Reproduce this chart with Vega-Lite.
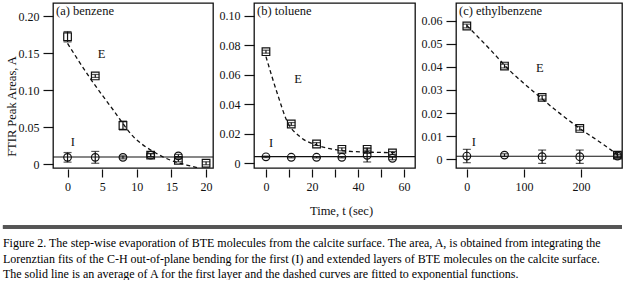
{
  "$schema": "https://vega.github.io/schema/vega-lite/v6.json",
  "padding": {"left": 1, "top": 2, "right": 0, "bottom": 0},
  "config": {
    "font": "Liberation Serif",
    "view": {"stroke": "#111", "strokeWidth": 1.3},
    "axis": {"domain": false, "grid": false, "tickColor": "#111", "tickWidth": 1.2, "labelColor": "#111", "labelFont": "Liberation Serif", "labelFontSize": 12, "titleFont": "Liberation Serif", "titleFontSize": 12.5, "titleFontWeight": "normal", "titleColor": "#111", "labelOverlap": false, "labelFlush": false, "tickCount": 20},
    "axisX": {"tickSize": 8, "labelPadding": 4, "offset": 1},
    "axisY": {"tickSize": 10, "labelPadding": 4},
    "title": {"font": "Liberation Serif", "fontSize": 12.5, "fontWeight": "normal", "color": "#111", "anchor": "start", "orient": "top", "frame": "group", "offset": -14, "dx": 3, "baseline": "alphabetic"},
    "text": {"font": "Liberation Serif", "fontSize": 12.5, "color": "#111"}
  },
  "datasets": {
    "a_pts": [
      {"s": "E", "t": 0, "A": 0.172, "lo": 0.165, "hi": 0.179},
      {"s": "E", "t": 4, "A": 0.119, "lo": 0.117, "hi": 0.121},
      {"s": "E", "t": 8, "A": 0.052, "lo": 0.046, "hi": 0.058},
      {"s": "E", "t": 12, "A": 0.012, "lo": 0.010, "hi": 0.014},
      {"s": "E", "t": 16, "A": 0.005, "lo": 0.003, "hi": 0.007},
      {"s": "E", "t": 20, "A": 0.001, "lo": -0.001, "hi": 0.003},
      {"s": "I", "t": 0, "A": 0.009, "lo": 0.0025, "hi": 0.0155},
      {"s": "I", "t": 4, "A": 0.009, "lo": 0.001, "hi": 0.017},
      {"s": "I", "t": 8, "A": 0.009, "lo": 0.007, "hi": 0.011},
      {"s": "I", "t": 12, "A": 0.012, "lo": 0.010, "hi": 0.014},
      {"s": "I", "t": 16, "A": 0.011, "lo": 0.009, "hi": 0.013}
    ],
    "a_fit": [
      {"t": 0, "A": 0.163}, {"t": 3.25, "A": 0.116}, {"t": 6.6, "A": 0.073}, {"t": 9.5, "A": 0.037},
      {"t": 12.4, "A": 0.0167}, {"t": 14.8, "A": 0.0054}, {"t": 17.2, "A": -0.0014}, {"t": 19.1, "A": -0.0058}
    ],
    "a_avg": [{"A": 0.0095}],
    "a_lab": [{"t": 4.9, "A": 0.149, "label": "E"}, {"t": 0.75, "A": 0.0297, "label": "I"}],
    "b_pts": [
      {"s": "E", "t": 0, "A": 0.0757, "lo": 0.0747, "hi": 0.0767},
      {"s": "E", "t": 11, "A": 0.0265, "lo": 0.0255, "hi": 0.0275},
      {"s": "E", "t": 22, "A": 0.0129, "lo": 0.0119, "hi": 0.0139},
      {"s": "E", "t": 33, "A": 0.0093, "lo": 0.0083, "hi": 0.0103},
      {"s": "E", "t": 44, "A": 0.0093, "lo": 0.0083, "hi": 0.0103},
      {"s": "E", "t": 55, "A": 0.0068, "lo": 0.0058, "hi": 0.0078},
      {"s": "I", "t": 0, "A": 0.0042, "lo": 0.0037, "hi": 0.0047},
      {"s": "I", "t": 11, "A": 0.0039, "lo": 0.0035, "hi": 0.0043},
      {"s": "I", "t": 22, "A": 0.0039, "lo": 0.0035, "hi": 0.0043},
      {"s": "I", "t": 33, "A": 0.0039, "lo": 0.0035, "hi": 0.0043},
      {"s": "I", "t": 44, "A": 0.0052, "lo": 0.0007, "hi": 0.0097},
      {"s": "I", "t": 55, "A": 0.0032, "lo": 0.0022, "hi": 0.0042}
    ],
    "b_fit": [
      {"t": 0, "A": 0.0723}, {"t": 5.4, "A": 0.045}, {"t": 9, "A": 0.029}, {"t": 14.8, "A": 0.0179},
      {"t": 22, "A": 0.0122}, {"t": 29.3, "A": 0.0093}, {"t": 37.8, "A": 0.0078}, {"t": 46.5, "A": 0.0073}, {"t": 56.7, "A": 0.007}
    ],
    "b_avg": [{"A": 0.0043}],
    "b_lab": [{"t": 14, "A": 0.057, "label": "E"}, {"t": 2.2, "A": 0.0139, "label": "I"}],
    "c_pts": [
      {"s": "E", "t": 0, "A": 0.0578, "lo": 0.057, "hi": 0.0586},
      {"s": "E", "t": 66, "A": 0.0404, "lo": 0.0396, "hi": 0.0412},
      {"s": "E", "t": 132, "A": 0.0268, "lo": 0.026, "hi": 0.0276},
      {"s": "E", "t": 198, "A": 0.0133, "lo": 0.0125, "hi": 0.0141},
      {"s": "E", "t": 264, "A": 0.0017, "lo": 0.0007, "hi": 0.0027},
      {"s": "I", "t": 0, "A": 0.0013, "lo": -0.0016, "hi": 0.0042},
      {"s": "I", "t": 66, "A": 0.0017, "lo": 0.0011, "hi": 0.0023},
      {"s": "I", "t": 132, "A": 0.001, "lo": -0.0019, "hi": 0.0039},
      {"s": "I", "t": 198, "A": 0.001, "lo": -0.0019, "hi": 0.0039},
      {"s": "I", "t": 264, "A": 0.0013, "lo": 0.0007, "hi": 0.0019}
    ],
    "c_fit": [
      {"t": 0, "A": 0.058}, {"t": 40, "A": 0.0478}, {"t": 75, "A": 0.0385}, {"t": 116, "A": 0.0295},
      {"t": 157, "A": 0.021}, {"t": 198, "A": 0.0133}, {"t": 240, "A": 0.0062}, {"t": 270, "A": 0.0008}
    ],
    "c_avg": [{"A": 0.0012}],
    "c_lab": [{"t": 128, "A": 0.0394, "label": "E"}, {"t": 12.3, "A": 0.0072, "label": "I"}],
    "caption": [
      {"line": 1, "text": "Figure 2. The step-wise evaporation of BTE molecules from the calcite surface. The area, A, is obtained from integrating the"},
      {"line": 2, "text": "Lorenztian fits of the C-H out-of-plane bending for the first (I) and extended layers of BTE molecules on the calcite surface."},
      {"line": 3, "text": "The solid line is an average of A for the first layer and the dashed curves are fitted to exponential functions."}
    ]
  },
  "vconcat": [
    {
      "hconcat": [
        {
          "width": 160, "height": 165,
          "title": {"text": "(a) benzene"},
          "layer": [
            {"data": {"name": "a_avg"}, "mark": {"type": "rule", "color": "#111", "strokeWidth": 1.2},
             "encoding": {"y": {"field": "A", "type": "quantitative", "scale": {"domain": [-0.0054, 0.2176], "nice": false, "zero": false}, "axis": {"title": "FTIR Peak Areas, A"}}}},
            {"data": {"name": "a_fit"}, "mark": {"type": "line", "clip": true, "strokeDash": [4, 3], "color": "#111", "strokeWidth": 1.3, "interpolate": "monotone"},
             "encoding": {"x": {"field": "t", "type": "quantitative", "scale": {"domain": [-2.1, 21.0], "nice": false, "zero": false}, "axis": {"title": null}},
                          "y": {"field": "A", "type": "quantitative", "scale": {"domain": [-0.0054, 0.2176], "nice": false, "zero": false}, "axis": {"title": "FTIR Peak Areas, A"}}}},
            {"data": {"name": "a_pts"}, "mark": {"type": "errorbar", "ticks": true, "size": 8, "thickness": 1.2, "color": "#111"},
             "encoding": {"x": {"field": "t", "type": "quantitative", "scale": {"domain": [-2.1, 21.0], "nice": false, "zero": false}, "axis": {"title": null}},
                          "y": {"field": "lo", "type": "quantitative", "scale": {"domain": [-0.0054, 0.2176], "nice": false, "zero": false}, "axis": {"title": "FTIR Peak Areas, A"}},
                          "y2": {"field": "hi"}}},
            {"data": {"name": "a_pts"}, "mark": {"type": "point", "filled": false, "color": "#111", "strokeWidth": 1.2, "opacity": 1},
             "encoding": {"x": {"field": "t", "type": "quantitative", "scale": {"domain": [-2.1, 21.0], "nice": false, "zero": false},
                                "axis": {"values": [0, 5, 10, 15, 20], "title": null}},
                          "y": {"field": "A", "type": "quantitative", "scale": {"domain": [-0.0054, 0.2176], "nice": false, "zero": false},
                                "axis": {"values": [0, 0.05, 0.1, 0.15, 0.2], "labelExpr": "datum.value == 0 ? '0' : format(datum.value, '.2f')", "title": "FTIR Peak Areas, A", "titleY": 103, "titlePadding": 0}},
                          "shape": {"field": "s", "type": "nominal", "scale": {"domain": ["E", "I"], "range": ["square", "circle"]}, "legend": null},
                          "size": {"field": "s", "type": "nominal", "scale": {"domain": ["E", "I"], "range": [58, 58]}, "legend": null}}},
            {"data": {"name": "a_lab"}, "mark": {"type": "text", "baseline": "middle", "align": "center"},
             "encoding": {"x": {"field": "t", "type": "quantitative", "scale": {"domain": [-2.1, 21.0], "nice": false, "zero": false}, "axis": {"title": null}},
                          "y": {"field": "A", "type": "quantitative", "scale": {"domain": [-0.0054, 0.2176], "nice": false, "zero": false}, "axis": {"title": "FTIR Peak Areas, A"}},
                          "text": {"field": "label"}}}
          ]
        },
        {
          "width": 161, "height": 165,
          "title": {"text": "(b) toluene"},
          "layer": [
            {"data": {"name": "b_avg"}, "mark": {"type": "rule", "color": "#111", "strokeWidth": 1.2},
             "encoding": {"y": {"field": "A", "type": "quantitative", "scale": {"domain": [-0.0034, 0.1088], "nice": false, "zero": false}, "axis": {"title": null}}}},
            {"data": {"name": "b_fit"}, "mark": {"type": "line", "clip": true, "strokeDash": [4, 3], "color": "#111", "strokeWidth": 1.3, "interpolate": "monotone"},
             "encoding": {"x": {"field": "t", "type": "quantitative", "scale": {"domain": [-5.2, 64.8], "nice": false, "zero": false}, "axis": {"title": "Time, t (sec)"}},
                          "y": {"field": "A", "type": "quantitative", "scale": {"domain": [-0.0034, 0.1088], "nice": false, "zero": false}, "axis": {"title": null}}}},
            {"data": {"name": "b_pts"}, "mark": {"type": "errorbar", "ticks": true, "size": 8, "thickness": 1.2, "color": "#111"},
             "encoding": {"x": {"field": "t", "type": "quantitative", "scale": {"domain": [-5.2, 64.8], "nice": false, "zero": false}, "axis": {"title": "Time, t (sec)"}},
                          "y": {"field": "lo", "type": "quantitative", "scale": {"domain": [-0.0034, 0.1088], "nice": false, "zero": false}, "axis": {"title": null}},
                          "y2": {"field": "hi"}}},
            {"data": {"name": "b_pts"}, "mark": {"type": "point", "filled": false, "color": "#111", "strokeWidth": 1.2, "opacity": 1},
             "encoding": {"x": {"field": "t", "type": "quantitative", "scale": {"domain": [-5.2, 64.8], "nice": false, "zero": false},
                                "axis": {"values": [0, 10, 20, 30, 40, 50, 60], "labelExpr": "datum.value % 20 == 0 ? datum.label : ''", "title": "Time, t (sec)", "titleX": 87, "titlePadding": 12}},
                          "y": {"field": "A", "type": "quantitative", "scale": {"domain": [-0.0034, 0.1088], "nice": false, "zero": false},
                                "axis": {"values": [0, 0.02, 0.04, 0.06, 0.08, 0.1], "labelExpr": "datum.value == 0 ? '0' : format(datum.value, '.2f')", "title": null}},
                          "shape": {"field": "s", "type": "nominal", "scale": {"domain": ["E", "I"], "range": ["square", "circle"]}, "legend": null},
                          "size": {"field": "s", "type": "nominal", "scale": {"domain": ["E", "I"], "range": [58, 58]}, "legend": null}}},
            {"data": {"name": "b_lab"}, "mark": {"type": "text", "baseline": "middle", "align": "center"},
             "encoding": {"x": {"field": "t", "type": "quantitative", "scale": {"domain": [-5.2, 64.8], "nice": false, "zero": false}, "axis": {"title": "Time, t (sec)"}},
                          "y": {"field": "A", "type": "quantitative", "scale": {"domain": [-0.0034, 0.1088], "nice": false, "zero": false}, "axis": {"title": null}},
                          "text": {"field": "label"}}}
          ]
        },
        {
          "width": 166, "height": 165,
          "title": {"text": "(c) ethylbenzene"},
          "layer": [
            {"data": {"name": "c_avg"}, "mark": {"type": "rule", "color": "#111", "strokeWidth": 1.2},
             "encoding": {"y": {"field": "A", "type": "quantitative", "scale": {"domain": [-0.0039, 0.0678], "nice": false, "zero": false}, "axis": {"title": null}}}},
            {"data": {"name": "c_fit"}, "mark": {"type": "line", "clip": true, "strokeDash": [4, 3], "color": "#111", "strokeWidth": 1.3, "interpolate": "monotone"},
             "encoding": {"x": {"field": "t", "type": "quantitative", "scale": {"domain": [-19, 272], "nice": false, "zero": false}, "axis": {"title": null}},
                          "y": {"field": "A", "type": "quantitative", "scale": {"domain": [-0.0039, 0.0678], "nice": false, "zero": false}, "axis": {"title": null}}}},
            {"data": {"name": "c_pts"}, "mark": {"type": "errorbar", "ticks": true, "size": 8, "thickness": 1.2, "color": "#111"},
             "encoding": {"x": {"field": "t", "type": "quantitative", "scale": {"domain": [-19, 272], "nice": false, "zero": false}, "axis": {"title": null}},
                          "y": {"field": "lo", "type": "quantitative", "scale": {"domain": [-0.0039, 0.0678], "nice": false, "zero": false}, "axis": {"title": null}},
                          "y2": {"field": "hi"}}},
            {"data": {"name": "c_pts"}, "mark": {"type": "point", "filled": false, "color": "#111", "strokeWidth": 1.2, "opacity": 1},
             "encoding": {"x": {"field": "t", "type": "quantitative", "scale": {"domain": [-19, 272], "nice": false, "zero": false},
                                "axis": {"values": [0, 100, 200], "title": null}},
                          "y": {"field": "A", "type": "quantitative", "scale": {"domain": [-0.0039, 0.0678], "nice": false, "zero": false},
                                "axis": {"values": [0, 0.01, 0.02, 0.03, 0.04, 0.05, 0.06], "labelExpr": "datum.value == 0 ? '0' : format(datum.value, '.2f')", "title": null}},
                          "shape": {"field": "s", "type": "nominal", "scale": {"domain": ["E", "I"], "range": ["square", "circle"]}, "legend": null},
                          "size": {"field": "s", "type": "nominal", "scale": {"domain": ["E", "I"], "range": [58, 58]}, "legend": null}}},
            {"data": {"name": "c_lab"}, "mark": {"type": "text", "baseline": "middle", "align": "center"},
             "encoding": {"x": {"field": "t", "type": "quantitative", "scale": {"domain": [-19, 272], "nice": false, "zero": false}, "axis": {"title": null}},
                          "y": {"field": "A", "type": "quantitative", "scale": {"domain": [-0.0039, 0.0678], "nice": false, "zero": false}, "axis": {"title": null}},
                          "text": {"field": "label"}}}
          ]
        }
      ],
      "spacing": 41,
      "bounds": "flush"
    },
    {
      "width": 569, "height": 51,
      "view": {"stroke": null},
      "data": {"name": "caption"},
      "layer": [
        {"mark": {"type": "rule", "color": "#555", "strokeWidth": 3.5},
         "encoding": {"x": {"datum": -0.088, "type": "quantitative", "scale": {"domain": [0, 1], "nice": false, "zero": false}, "axis": null},
                      "x2": {"datum": 1},
                      "y": {"datum": -0.311, "type": "quantitative", "scale": {"domain": [-0.311, 3], "reverse": true, "nice": false, "zero": false}, "axis": null}}},
        {"mark": {"type": "text", "align": "left", "baseline": "alphabetic", "fontSize": 12, "color": "#000"},
         "encoding": {"x": {"datum": -0.088, "type": "quantitative", "scale": {"domain": [0, 1], "nice": false, "zero": false}, "axis": null},
                      "y": {"field": "line", "type": "quantitative", "scale": {"domain": [-0.311, 3], "reverse": true, "nice": false, "zero": false}, "axis": null},
                      "text": {"field": "text"}}}
      ]
    }
  ],
  "spacing": 7
}
